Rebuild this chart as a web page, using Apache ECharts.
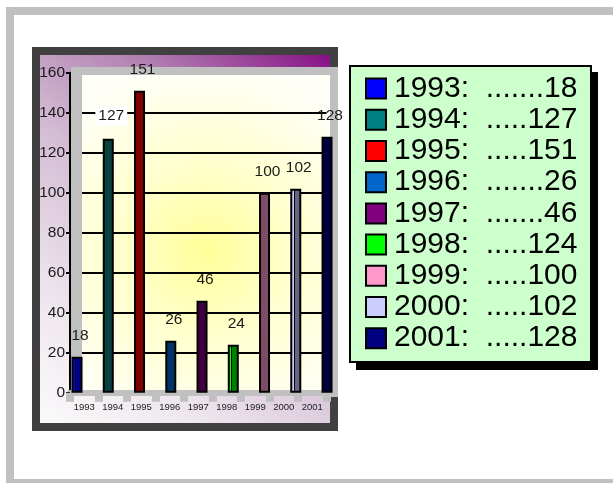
<!DOCTYPE html>
<html>
<head>
<meta charset="utf-8">
<script src="https://cdn.jsdelivr.net/npm/echarts@6/dist/echarts.min.js"></script>
<style>
html,body{margin:0;padding:0;background:#fff;}
#chart{width:613px;height:483px;}
</style>
</head>
<body>
<div id="chart"></div>
<script>
// ---- data ----
const years = ['1993','1994','1995','1996','1997','1998','1999','2000','2001'];
const values = [18,127,151,26,46,24,100,102,128];
const legendValues = [18,127,151,26,46,124,100,102,128];
const yTicks = [0,20,40,60,80,100,120,140,160];

// ---- styles ----
const legendColors = ['#0000ff','#008080','#ff0000','#0066cc','#800080','#00ff00','#ff99cc','#ccccff','#000080'];
const barColors = ['#000080','#0b4040','#800000','#003366','#400040','#008000','#7f4c66','#666680','#000040'];
const sideColors = ['#0000ff',null,null,null,null,'#00ff00',null,'#ccccff',null];
const whiteLabelYear = '1994';
const FONT = "'Liberation Sans', Arial, sans-serif";

function barFill(i){
  if(!sideColors[i]) return barColors[i];
  return {type:'linear',x:0,y:0,x2:1,y2:0,colorStops:[
    {offset:0,color:sideColors[i]},{offset:0.3,color:sideColors[i]},
    {offset:0.3,color:'#000'},{offset:0.4,color:'#000'},
    {offset:0.4,color:barColors[i]},{offset:1,color:barColors[i]}]};
}

const series = years.map((y,i)=>({
  name:y, type:'bar', stack:'all', xAxisIndex:1, yAxisIndex:1, barWidth:11,
  data: years.map((_,j)=> j===i ? {
      value: values[i],
      label: y===whiteLabelYear ? {backgroundColor:'#ffffff', padding:[2,3]} : {}
    } : '-'),
  itemStyle:{color:barFill(i), borderColor:'#000', borderWidth:2},
  label:{show:true, position:'top', distance:13, offset:[3,0], fontSize:15.5, color:'#1a1a1a', fontFamily:FONT},
  emphasis:{disabled:true}
}));

const chart = echarts.init(document.getElementById('chart'), null, {renderer:'canvas'});
chart.setOption({
  animation:false,
  textStyle:{fontFamily:FONT},
  grid:[
    {left:70, top:72.7, width:256.5, height:320},
    {left:61.4, top:72.7, width:281.25, height:320}
  ],
  xAxis:[
    {type:'category', gridIndex:0, data:years,
     axisLine:{show:true, lineStyle:{color:'#c0c0c0', width:6}},
     axisTick:{show:true, interval:0, length:9, lineStyle:{color:'#c0c0c0', width:8}},
     axisLabel:{interval:0, hideOverlap:false, fontSize:9.5, color:'#222', margin:10, fontFamily:FONT},
     splitLine:{show:false}},
    {type:'category', gridIndex:1, data:years, show:false}
  ],
  yAxis:[
    {type:'value', gridIndex:0, min:0, max:160, interval:20,
     axisLine:{show:true, lineStyle:{color:'#000', width:2}},
     axisTick:{show:true, length:4, lineStyle:{color:'#000', width:2}},
     axisLabel:{fontSize:15.5, color:'#1a1a1a', margin:5, fontFamily:FONT,
                formatter:v=> yTicks.includes(v) ? String(v) : ''},
     splitLine:{show:true, lineStyle:{color:'#000', width:2}}},
    {type:'value', gridIndex:1, min:0, max:160, interval:20, show:false, splitLine:{show:false}}
  ],
  legend:{
    orient:'vertical', left:365, top:73, padding:0, itemWidth:20, itemHeight:20, itemGap:0,
    icon:'rect', selectedMode:false,
    itemStyle:{borderColor:'#000', borderWidth:2},
    textStyle:{fontSize:30, lineHeight:31.2, color:'#000', fontFamily:FONT, padding:[0,0,0,3]},
    data: years.map((y,i)=>({name:y, itemStyle:{color:legendColors[i], borderColor:'#000', borderWidth:2}})),
    formatter: name => {
      const v = legendValues[years.indexOf(name)];
      return name + ':  ' + '.'.repeat(v < 100 ? 7 : 5) + v;
    }
  },
  graphic:[
    {type:'rect', z:-20, shape:{x:10,y:11,width:640,height:472}, style:{fill:'none', stroke:'#c0c0c0', lineWidth:8}},
    {type:'rect', z:-19, shape:{x:32,y:47,width:306,height:384}, style:{fill:'#404040'}},
    {type:'rect', z:-18, shape:{x:40,y:55,width:290,height:368}, style:{fill:{type:'linear',x:1,y:0,x2:0,y2:1,colorStops:[
      {offset:0,color:'#860f86'},{offset:0.25,color:'#b07fb0'},{offset:0.5,color:'#d4bdd4'},{offset:0.8,color:'#efe8ef'},{offset:1,color:'#fbfafb'}]}}},
    {type:'rect', z:-17, shape:{x:82,y:75,width:248,height:317}, style:{fill:{type:'radial',x:0.5,y:0.55,r:0.75,colorStops:[
      {offset:0,color:'#ffff99'},{offset:0.45,color:'#ffffcc'},{offset:1,color:'#fffff8'}]}}},
    {type:'rect', z:1, shape:{x:71,y:67,width:267,height:8}, style:{fill:'#c0c0c0'}},
    {type:'rect', z:1, shape:{x:71,y:67,width:11,height:325}, style:{fill:'#c0c0c0'}},
    {type:'rect', z:1, shape:{x:330,y:67,width:8,height:330}, style:{fill:'#c0c0c0'}},
    {type:'rect', z:-5, shape:{x:356,y:72,width:242,height:298}, style:{fill:'#000'}},
    {type:'rect', z:-4, shape:{x:350,y:66,width:241,height:296}, style:{fill:'#ccffcc', stroke:'#000', lineWidth:2}}
  ],
  series: series
});
</script>
</body>
</html>
